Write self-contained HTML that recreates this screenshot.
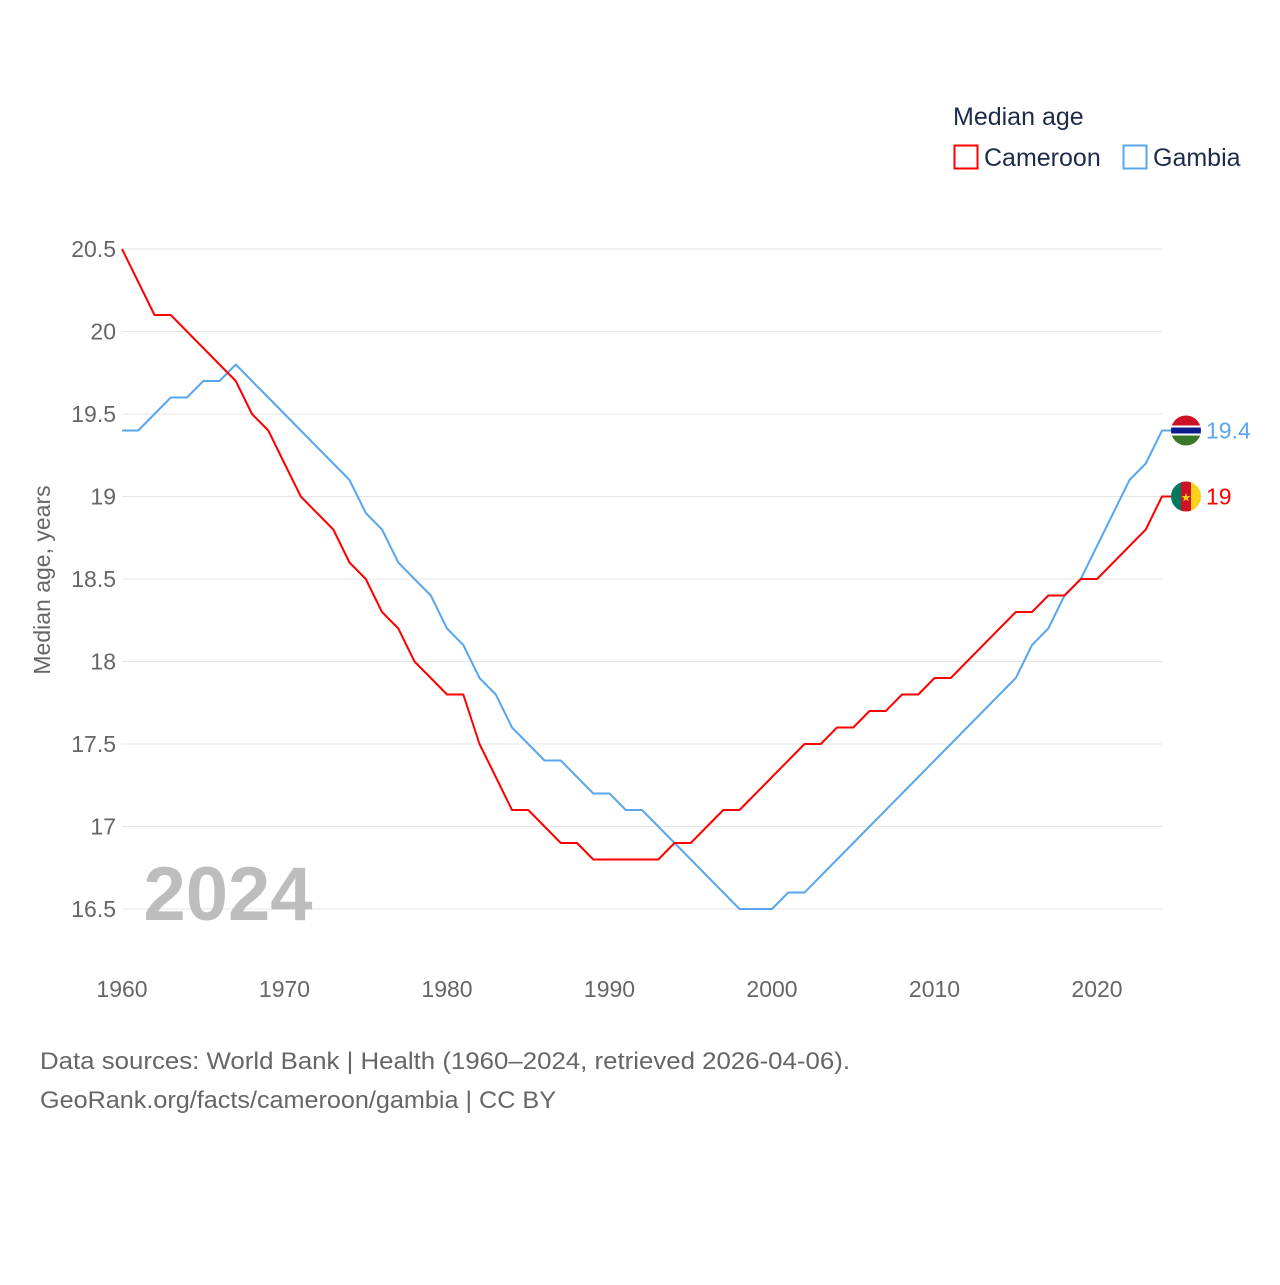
<!DOCTYPE html>
<html><head><meta charset="utf-8">
<style>
body{margin:0;background:#fff;font-family:"Liberation Sans",sans-serif;}
svg text{font-family:"Liberation Sans",sans-serif;}
</style></head>
<body>
<svg id="chart" width="1280" height="1280" xmlns="http://www.w3.org/2000/svg">
<rect width="1280" height="1280" fill="#fff"/>
<g id="grid"></g>
<g id="yticks"></g>
<g id="xticks"></g>
<text x="228" y="920" font-size="76" font-weight="bold" fill="#bdbdbd" text-anchor="middle">2024</text>
<g id="lines"></g>
<text transform="translate(50,580) rotate(-90)" font-size="23" fill="#666" text-anchor="middle">Median age, years</text>
<text x="953" y="125" font-size="25" fill="#1d2b4a">Median age</text>
<g>
<rect x="954.5" y="145.5" width="23" height="23" fill="none" stroke="#f00" stroke-width="2"/>
<text x="984" y="166" font-size="25" fill="#1d2b4a">Cameroon</text></g>
<g>
<rect x="1123.5" y="145.5" width="23" height="23" fill="none" stroke="#5aa6ec" stroke-width="2"/>
<text x="1153" y="166" font-size="25" fill="#1d2b4a">Gambia</text></g>
<g id="ends"></g>
<text x="40" y="1069" font-size="24" fill="#666" textLength="810" lengthAdjust="spacingAndGlyphs">Data sources: World Bank | Health (1960–2024, retrieved 2026-04-06).</text>
<text x="40" y="1108" font-size="24" fill="#666" textLength="516" lengthAdjust="spacingAndGlyphs">GeoRank.org/facts/cameroon/gambia | CC BY</text>
</svg>
<script>
const years=[];for(let y=1960;y<=2024;y++)years.push(y);
const cameroon=[20.5,20.3,20.1,20.1,20.0,19.9,19.8,19.7,19.5,19.4,19.2,19.0,18.9,18.8,18.6,18.5,18.3,18.2,18.0,17.9,17.8,17.8,17.5,17.3,17.1,17.1,17.0,16.9,16.9,16.8,16.8,16.8,16.8,16.8,16.9,16.9,17.0,17.1,17.1,17.2,17.3,17.4,17.5,17.5,17.6,17.6,17.7,17.7,17.8,17.8,17.9,17.9,18.0,18.1,18.2,18.3,18.3,18.4,18.4,18.5,18.5,18.6,18.7,18.8,19.0];
const gambia=[19.4,19.4,19.5,19.6,19.6,19.7,19.7,19.8,19.7,19.6,19.5,19.4,19.3,19.2,19.1,18.9,18.8,18.6,18.5,18.4,18.2,18.1,17.9,17.8,17.6,17.5,17.4,17.4,17.3,17.2,17.2,17.1,17.1,17.0,16.9,16.8,16.7,16.6,16.5,16.5,16.5,16.6,16.6,16.7,16.8,16.9,17.0,17.1,17.2,17.3,17.4,17.5,17.6,17.7,17.8,17.9,18.1,18.2,18.4,18.5,18.7,18.9,19.1,19.2,19.4];
const yTicks=[16.5,17,17.5,18,18.5,19,19.5,20,20.5];
const xTicks=[1960,1970,1980,1990,2000,2010,2020];
const NS="http://www.w3.org/2000/svg";
const xs=y=>122+(y-1960)*(1097-122)/60;
const ys=v=>909-(v-16.5)*(909-249)/4;
function mk(tag,attrs,parent){const e=document.createElementNS(NS,tag);for(const k in attrs)e.setAttribute(k,attrs[k]);document.getElementById(parent).appendChild(e);return e;}
yTicks.forEach(t=>{
 const l=mk('line',{x1:122,x2:1162,y1:ys(t),y2:ys(t),stroke:'#e6e6e6','stroke-width':1},'grid');
 
 
 const tx=mk('text',{x:116,y:ys(t)+8,'font-size':23,fill:'#666','text-anchor':'end'},'yticks');
 tx.textContent=t;
 
 
});
xTicks.forEach(t=>{
 const tx=mk('text',{x:xs(t),y:997,'font-size':23,fill:'#666','text-anchor':'middle'},'xticks');
 tx.textContent=t;
 
 
});
function series(vals,color,name){
 const last=vals[vals.length-1];
 const d=vals.map((v,i)=>(i?'L':'M')+xs(years[i]).toFixed(1)+','+ys(v).toFixed(1)).join('')+'L'+(xs(years[years.length-1])+10).toFixed(1)+','+ys(last).toFixed(1);
 const p=mk('path',{d:d,fill:'none',stroke:color,'stroke-width':2,'stroke-linejoin':'round'},'lines');
 
 
}
series(gambia,'#5aa6ec','gambia');
series(cameroon,'#f00','cameroon');
const gy=ys(gambia[gambia.length-1]), cy=ys(cameroon[cameroon.length-1]);
const g1=mk('g',{},'ends');


g1.innerHTML=`<defs><clipPath id="cg"><circle cx="1186" cy="${gy}" r="15"/></clipPath><clipPath id="cc"><circle cx="1186" cy="${cy}" r="15"/></clipPath></defs>
<g clip-path="url(#cg)"><rect x="1171" y="${gy-15}" width="30" height="11" fill="#ce1126"/><rect x="1171" y="${gy-4}" width="30" height="8" fill="#0c1c8c"/><rect x="1171" y="${gy-5}" width="30" height="2" fill="#fff"/><rect x="1171" y="${gy+3}" width="30" height="2" fill="#fff"/><rect x="1171" y="${gy+5}" width="30" height="11" fill="#3a7728"/></g>
<text x="1206" y="${gy+8}" font-size="23" fill="#5aa6ec">19.4</text>
<g clip-path="url(#cc)"><rect x="1171" y="${cy-15}" width="10" height="30" fill="#007a5e"/><rect x="1181" y="${cy-15}" width="10" height="30" fill="#ce1126"/><rect x="1191" y="${cy-15}" width="10" height="30" fill="#fcd116"/></g>
<text x="1186" y="${cy+5}" font-size="12" fill="#fcd116" text-anchor="middle">★</text>
<text x="1206" y="${cy+8}" font-size="23" fill="#f00">19</text>`;
</script>
</body></html>
